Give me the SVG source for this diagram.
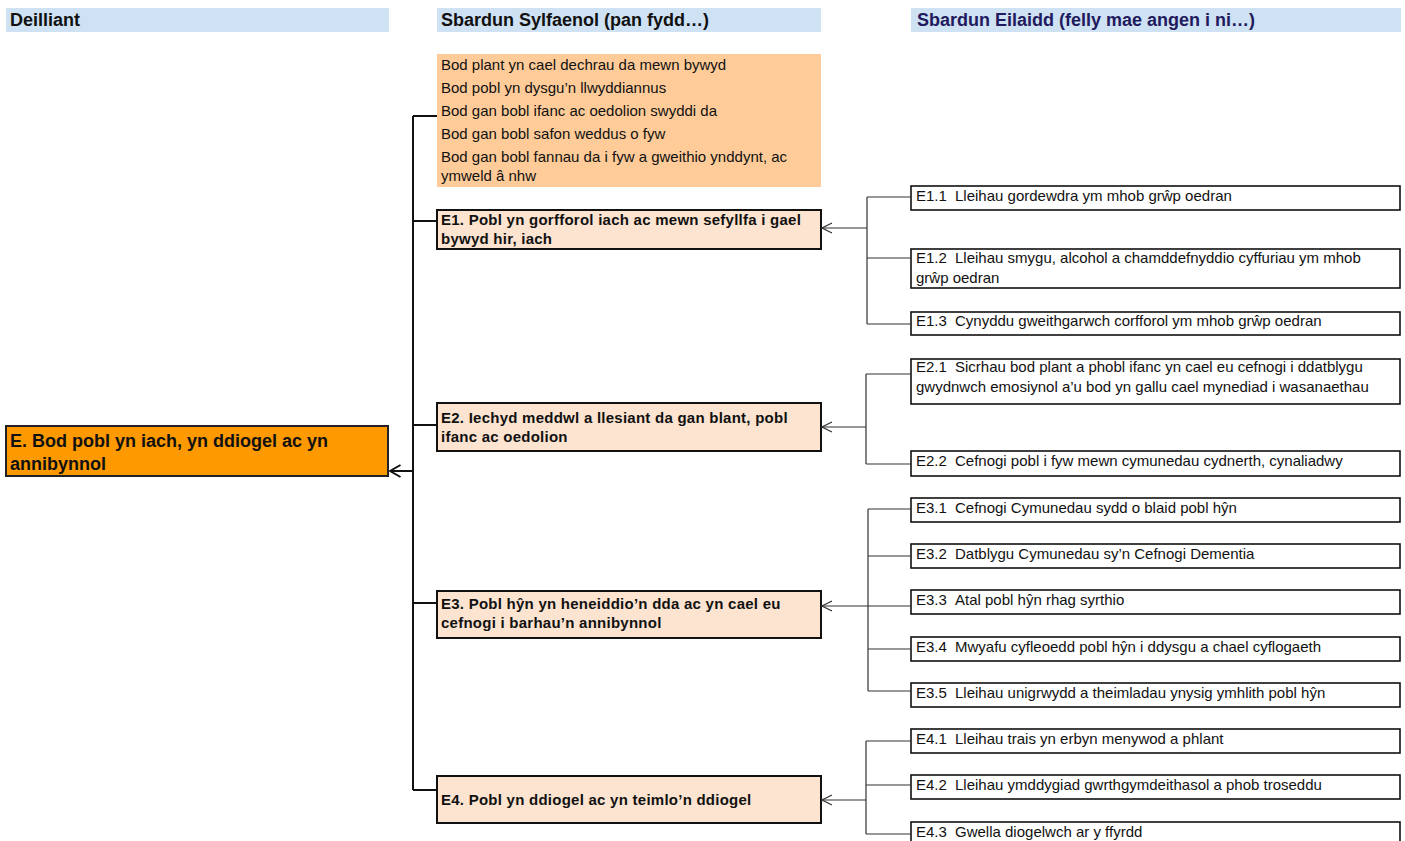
<svg xmlns="http://www.w3.org/2000/svg" width="1405" height="841" viewBox="0 0 1405 841">
<style>
text{font-family:"Liberation Sans",Arial,sans-serif;fill:#111}
.hd{font-size:18px;font-weight:bold}
.hbar{fill:#cfe2f3}
.t{font-size:15px}
.b{font-size:15px;font-weight:bold;letter-spacing:0.25px}
.main{font-size:18px;font-weight:bold}
.ebox{fill:#fce4d0;stroke:#111;stroke-width:2}
.sbox{fill:#fff;stroke:#111;stroke-width:1.6}
.trunk{fill:none;stroke:#111;stroke-width:2}
.thin{fill:none;stroke:#333;stroke-width:1.2}
</style>
<defs>
<marker id="ah" viewBox="0 0 12 12" refX="11" refY="6" markerWidth="12" markerHeight="12" markerUnits="userSpaceOnUse" orient="auto">
<path d="M1,1 L11,6 L1,11" fill="none" stroke="#333" stroke-width="1.2"/>
</marker>
<marker id="ahb" viewBox="0 0 14 14" refX="12.5" refY="7" markerWidth="14" markerHeight="14" markerUnits="userSpaceOnUse" orient="auto">
<path d="M2,1 L12.5,7 L2,13" fill="none" stroke="#111" stroke-width="2"/>
</marker>
</defs>

<g id="headers">
<rect class="hbar" x="6" y="8" width="383" height="24"/>
<text class="hd" x="10" y="26">Deilliant</text>
<rect class="hbar" x="437" y="8" width="384" height="24"/>
<text class="hd" x="441" y="26">Sbardun Sylfaenol (pan fydd…)</text>
<rect class="hbar" x="911" y="8" width="490" height="24"/>
<text class="hd" x="917" y="26" style="fill:#221a5e">Sbardun Eilaidd (felly mae angen i ni…)</text>
</g>

<g id="outcome-E">
<rect x="6" y="426" width="382" height="50" fill="#ff9900" stroke="#222" stroke-width="2"/>
<text class="main" x="10" y="447">E. Bod pobl yn iach, yn ddiogel ac yn</text>
<text class="main" x="10" y="470">annibynnol</text>
</g>

<g id="wellbeing-goals">
<rect x="437" y="54" width="384" height="133" fill="#ffcc99"/>
<text class="t" x="441" y="70">Bod plant yn cael dechrau da mewn bywyd</text>
<text class="t" x="441" y="93">Bod pobl yn dysgu’n llwyddiannus</text>
<text class="t" x="441" y="116">Bod gan bobl ifanc ac oedolion swyddi da</text>
<text class="t" x="441" y="139">Bod gan bobl safon weddus o fyw</text>
<text class="t" x="441" y="162">Bod gan bobl fannau da i fyw a gweithio ynddynt, ac</text>
<text class="t" x="441" y="181">ymweld â nhw</text>
</g>

<g id="E1">
<rect class="ebox" x="437" y="210" width="384" height="39"/>
<text class="b" x="441" y="225">E1. Pobl yn gorfforol iach ac mewn sefyllfa i gael</text>
<text class="b" x="441" y="244">bywyd hir, iach</text>
</g>
<g id="E2">
<rect class="ebox" x="437" y="403" width="384" height="48"/>
<text class="b" x="441" y="423">E2. Iechyd meddwl a llesiant da gan blant, pobl</text>
<text class="b" x="441" y="442">ifanc ac oedolion</text>
</g>
<g id="E3">
<rect class="ebox" x="437" y="591" width="384" height="47"/>
<text class="b" x="441" y="609">E3. Pobl hŷn yn heneiddio’n dda ac yn cael eu</text>
<text class="b" x="441" y="628">cefnogi i barhau’n annibynnol</text>
</g>
<g id="E4">
<rect class="ebox" x="437" y="776" width="384" height="47"/>
<text class="b" x="441" y="805">E4. Pobl yn ddiogel ac yn teimlo’n ddiogel</text>
</g>

<g id="E1.1">
<rect class="sbox" x="911" y="186" width="489" height="24"/>
<text class="t" y="201"><tspan x="916">E1.1</tspan><tspan x="955">Lleihau gordewdra ym mhob grŵp oedran</tspan></text>
</g>
<g id="E1.2">
<rect class="sbox" x="911" y="249" width="489" height="39"/>
<text class="t" y="263"><tspan x="916">E1.2</tspan><tspan x="955">Lleihau smygu, alcohol a chamddefnyddio cyffuriau ym mhob</tspan></text>
<text class="t" x="916" y="283">grŵp oedran</text>
</g>
<g id="E1.3">
<rect class="sbox" x="911" y="312" width="489" height="23"/>
<text class="t" y="326"><tspan x="916">E1.3</tspan><tspan x="955">Cynyddu gweithgarwch corfforol ym mhob grŵp oedran</tspan></text>
</g>
<g id="E2.1">
<rect class="sbox" x="911" y="359" width="489" height="45"/>
<text class="t" y="372"><tspan x="916">E2.1</tspan><tspan x="955">Sicrhau bod plant a phobl ifanc yn cael eu cefnogi i ddatblygu</tspan></text>
<text class="t" x="916" y="392">gwydnwch emosiynol a’u bod yn gallu cael mynediad i wasanaethau</text>
</g>
<g id="E2.2">
<rect class="sbox" x="911" y="451" width="489" height="25"/>
<text class="t" y="466"><tspan x="916">E2.2</tspan><tspan x="955">Cefnogi pobl i fyw mewn cymunedau cydnerth, cynaliadwy</tspan></text>
</g>
<g id="E3.1">
<rect class="sbox" x="911" y="498" width="489" height="24"/>
<text class="t" y="513"><tspan x="916">E3.1</tspan><tspan x="955">Cefnogi Cymunedau sydd o blaid pobl hŷn</tspan></text>
</g>
<g id="E3.2">
<rect class="sbox" x="911" y="544" width="489" height="24"/>
<text class="t" y="559"><tspan x="916">E3.2</tspan><tspan x="955">Datblygu Cymunedau sy’n Cefnogi Dementia</tspan></text>
</g>
<g id="E3.3">
<rect class="sbox" x="911" y="590" width="489" height="24"/>
<text class="t" y="605"><tspan x="916">E3.3</tspan><tspan x="955">Atal pobl hŷn rhag syrthio</tspan></text>
</g>
<g id="E3.4">
<rect class="sbox" x="911" y="637" width="489" height="24"/>
<text class="t" y="652"><tspan x="916">E3.4</tspan><tspan x="955">Mwyafu cyfleoedd pobl hŷn i ddysgu a chael cyflogaeth</tspan></text>
</g>
<g id="E3.5">
<rect class="sbox" x="911" y="683" width="489" height="24"/>
<text class="t" y="698"><tspan x="916">E3.5</tspan><tspan x="955">Lleihau unigrwydd a theimladau ynysig ymhlith pobl hŷn</tspan></text>
</g>
<g id="E4.1">
<rect class="sbox" x="911" y="729" width="489" height="24"/>
<text class="t" y="744"><tspan x="916">E4.1</tspan><tspan x="955">Lleihau trais yn erbyn menywod a phlant</tspan></text>
</g>
<g id="E4.2">
<rect class="sbox" x="911" y="775" width="489" height="24"/>
<text class="t" y="790"><tspan x="916">E4.2</tspan><tspan x="955">Lleihau ymddygiad gwrthgymdeithasol a phob troseddu</tspan></text>
</g>
<g id="E4.3">
<rect class="sbox" x="911" y="822" width="489" height="24"/>
<text class="t" y="837"><tspan x="916">E4.3</tspan><tspan x="955">Gwella diogelwch ar y ffyrdd</tspan></text>
</g>

<g id="connectors">
<path class="trunk" d="M413,116 V790 M413,116 H437 M413,221 H437 M413,425 H437 M413,603 H437 M413,790 H437"/>
<path class="trunk" d="M413,471 H390" marker-end="url(#ahb)"/>
<path class="thin" d="M867,197 V324 M867,197 H911 M867,258 H911 M867,324 H911"/>
<path class="thin" d="M867,228 H822" marker-end="url(#ah)"/>
<path class="thin" d="M866,374 V464 M866,374 H911 M866,464 H911"/>
<path class="thin" d="M866,427 H822" marker-end="url(#ah)"/>
<path class="thin" d="M868,509 V691 M868,509 H911 M868,556 H911 M868,649 H911 M868,691 H911"/>
<path class="thin" d="M911,606 H822" marker-end="url(#ah)"/>
<path class="thin" d="M866,741 V834 M866,741 H911 M866,785 H911 M866,834 H911"/>
<path class="thin" d="M866,800 H822" marker-end="url(#ah)"/>
</g>
</svg>
